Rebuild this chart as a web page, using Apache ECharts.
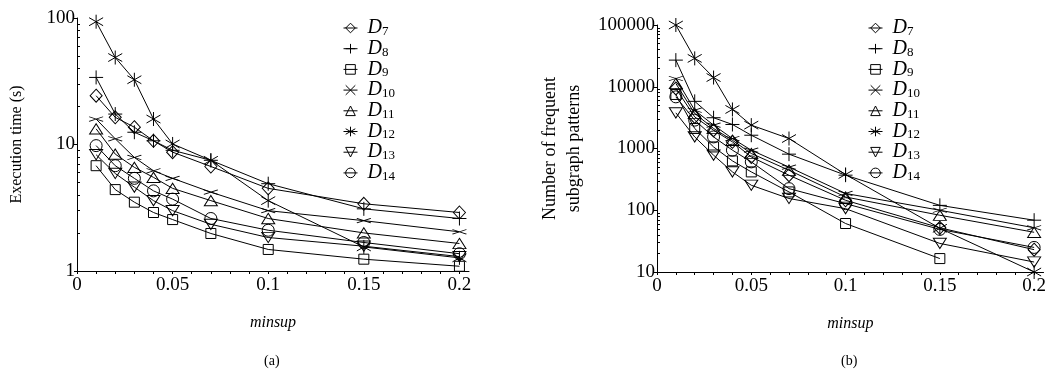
<!DOCTYPE html>
<html>
<head>
<meta charset="utf-8">
<script src="https://cdn.jsdelivr.net/npm/echarts@6/dist/echarts.min.js"></script>
<style>
	html, body { margin: 0; padding: 0; background: #fff; }
	#chart { width: 1049px; height: 372px; }
</style>
</head>
<body>
<div id="chart"></div>
<script>
// minsup values on the x axis
var minsup = [0.01, 0.02, 0.03, 0.04, 0.05, 0.07, 0.1, 0.15, 0.2];
var names = ['7', '8', '9', '10', '11', '12', '13', '14'];

// (a) execution time (s)
var timeD7 = [24.3, 16.4, 13.7, 10.7, 8.7, 6.7, 4.5, 3.4, 2.9];
var timeD8 = [33.9, 17.4, 12.5, 10.7, 9.0, 7.5, 4.9, 3.1, 2.6];
var timeD9 = [6.8, 4.4, 3.5, 2.9, 2.55, 1.98, 1.48, 1.24, 1.09];
var timeD10 = [15.9, 11.1, 7.9, 6.2, 5.4, 4.2, 3.0, 2.5, 2.04];
var timeD11 = [13.3, 8.4, 6.6, 5.5, 4.5, 3.6, 2.6, 2.0, 1.65];
var timeD12 = [93.5, 48.7, 32.5, 15.9, 10.1, 7.5, 3.6, 1.55, 1.27];
var timeD13 = [8.3, 5.9, 4.6, 3.6, 3.0, 2.34, 1.84, 1.57, 1.3];
var timeD14 = [9.8, 6.8, 5.4, 4.3, 3.7, 2.6, 2.1, 1.68, 1.37];

// (b) number of frequent subgraph patterns
var patD7 = [9400, 3250, 1980, 1280, 730, 369, 145, 52, 23];
var patD8 = [27000, 5800, 3150, 2450, 1640, 810, 370, 120, 69];
var patD9 = [7500, 2110, 1060, 630, 418, 198, 61, 16.5, null];
var patD10 = [13600, 4170, 2390, 1450, 940, 500, 187, 100, 52];
var patD11 = [11300, 3690, 2110, 1360, 830, 445, 164, 83, 44];
var patD12 = [100000, 28800, 14100, 4290, 2390, 1450, 380, 51, 10];
var patD13 = [3780, 1540, 780, 418, 254, 155, 106, 29, 14.5];
var patD14 = [6860, 2880, 1540, 940, 607, 224, 128, 49, 25];

// tick labels / tick positions
var xLabels = [0, 0.05, 0.1, 0.15, 0.2];
var xTicks = [0, 0.01, 0.02, 0.03, 0.04, 0.05, 0.06, 0.07, 0.08, 0.09, 0.1,
		0.11, 0.12, 0.13, 0.14, 0.15, 0.16, 0.17, 0.18, 0.19, 0.2];
var timeTicks = [1, 10, 100];
var timeMinor = [2, 3, 4, 5, 6, 7, 8, 9, 20, 30, 40, 50, 60, 70, 80, 90];
var patTicks = [10, 100, 1000, 10000, 100000];
var patMinor = [20, 30, 40, 50, 60, 70, 80, 90, 200, 300, 400, 500, 600, 700,
		800, 900, 2000, 3000, 4000, 5000, 6000, 7000, 8000, 9000, 20000, 30000,
		40000, 50000, 60000, 70000, 80000, 90000];

var symbols = [
	['diamond', [12, 13]],
	['path://M0,7L14,7M7,0L7,14', 14],
	['rect', 10],
	['path://M0,0L14,8M0,8L14,0', [14, 8]],
	['path://M7,0L14,12L0,12Z', [13, 12]],
	['path://M0,3L14,11M0,11L14,3M7,0L7,14', 14],
	['path://M0,0L14,0L7,12Z', [13, 12]],
	['circle', 12]
];

var font = 'Liberation Serif';

function makeSeries(list, idx) {
	var out = [];
	for (var i = 0; i < list.length; i++) {
		var pts = [];
		for (var j = 0; j < minsup.length; j++) {
			if (list[i][j] != null) {
				pts.push([minsup[j], list[i][j]]);
			}
		}
		out.push({
			name : 'D' + names[i],
			type : 'line',
			xAxisIndex : idx,
			yAxisIndex : idx * 2,
			data : pts,
			symbol : symbols[i][0],
			symbolSize : symbols[i][1],
			symbolKeepAspect : true,
			showSymbol : true,
			animation : false,
			lineStyle : { color : '#000', width : 1 },
			itemStyle : { color : 'none', borderColor : '#000', borderWidth : 1 },
			emphasis : { disabled : true },
			z : 10 - i
		});
	}
	return out;
}

function xAxis(idx) {
	return {
		type : 'value',
		gridIndex : idx,
		min : 0,
		max : 0.205,
		name : 'minsup',
		nameLocation : 'middle',
		nameGap : 44,
		nameTextStyle : { fontFamily : font, fontStyle : 'italic', fontSize : 16, color : '#000' },
		axisLine : { lineStyle : { color : '#000', width : 1 } },
		axisTick : { customValues : xTicks, length : 3, lineStyle : { color : '#000' } },
		axisLabel : { customValues : xLabels, fontFamily : font, fontSize : 19, color : '#000', margin : 5 },
		splitLine : { show : false }
	};
}

// major ticks and labels of a log axis
function yMajor(idx, min, max, ticks, name, gap) {
	return {
		type : 'log',
		gridIndex : idx,
		position : 'left',
		min : min,
		max : max,
		name : name,
		nameLocation : 'middle',
		nameGap : gap,
		nameTextStyle : { fontFamily : font, fontSize : idx ? 18 : 16, color : '#000', lineHeight : 24 },
		axisLine : { show : true, lineStyle : { color : '#000', width : 1 } },
		axisTick : { customValues : ticks, length : 3, lineStyle : { color : '#000' } },
		axisLabel : {
			customValues : ticks, fontFamily : font, fontSize : 19, color : '#000', margin : 2,
			formatter : function(v) { return String(v); }
		},
		splitLine : { show : false }
	};
}

// second log axis on the same grid, only for the small inside ticks
function yMinor(idx, min, max, ticks) {
	return {
		type : 'log',
		gridIndex : idx,
		position : 'left',
		min : min,
		max : max,
		axisLine : { show : false },
		axisTick : { show : true, customValues : ticks, inside : true, length : 3, lineStyle : { color : '#000', width : 1 } },
		axisLabel : { show : false },
		splitLine : { show : false }
	};
}

function legend(left) {
	return {
		orient : 'vertical',
		left : left,
		top : 13,
		itemWidth : 14,
		itemHeight : 12,
		itemGap : 0.7,
		selectedMode : false,
		data : ['D7', 'D8', 'D9', 'D10', 'D11', 'D12', 'D13', 'D14'],
		itemStyle : { color : 'none', borderColor : '#000', borderWidth : 1 },
		lineStyle : { color : '#000', width : 1 },
		formatter : function(n) {
			return '{d|D}{s|' + n.substring(1) + '}';
		},
		textStyle : {
			color : '#000',
			padding : [0, 0, 0, 5],
			rich : {
				d : { fontFamily : font, fontStyle : 'italic', fontSize : 20, lineHeight : 16, color : '#000' },
				s : { fontFamily : font, fontSize : 13, lineHeight : 13, padding : [7, 0, 0, 0], color : '#000' }
			}
		}
	};
}

var charts = echarts.init(document.getElementById('chart'), null, { renderer : 'canvas' });

var option = {
	backgroundColor : '#fff',
	animation : false,
	title : [{
		text : '(a)', left : 259, top : 349,
		textStyle : { fontFamily : font, fontSize : 14, fontWeight : 'normal', color : '#000' }
	}, {
		text : '(b)', left : 836, top : 349,
		textStyle : { fontFamily : font, fontSize : 14, fontWeight : 'normal', color : '#000' }
	}],
	legend : [legend(338), legend(863)],
	grid : [{
		left : 77, top : 18, width : 392, height : 253
	}, {
		left : 657, top : 25, width : 387, height : 247
	}],
	xAxis : [xAxis(0), xAxis(1)],
	yAxis : [
		yMajor(0, 1, 100, timeTicks, 'Execution time (s)', 48),
		yMinor(0, 1, 100, timeMinor),
		yMajor(1, 10, 100000, patTicks, 'Number of frequent\nsubgraph patterns', 71),
		yMinor(1, 10, 100000, patMinor)
	],
	series : makeSeries([timeD7, timeD8, timeD9, timeD10, timeD11, timeD12, timeD13, timeD14], 0)
			.concat(makeSeries([patD7, patD8, patD9, patD10, patD11, patD12, patD13, patD14], 1))
};

charts.setOption(option);
</script>
</body>
</html>
